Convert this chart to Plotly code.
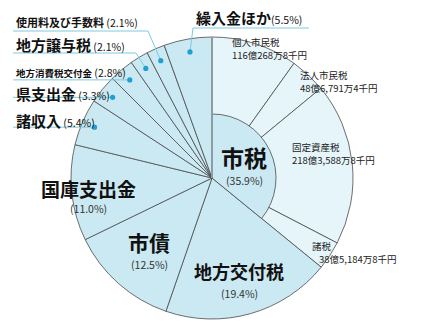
import math
import plotly.graph_objects as go

# ---------------- data ----------------
main_labels = ["地方交付税", "市債", "国庫支出金", "諸収入", "県支出金",
               "地方消費税交付金", "地方譲与税", "使用料及び手数料", "繰入金ほか"]
main_pcts = [19.4, 12.5, 11.0, 5.4, 3.3, 2.8, 2.1, 2.1, 5.5]

city_tax_label = "市税"
city_tax_pct = 35.9
sub_labels = ["個人市民税", "法人市民税", "固定資産税", "諸税"]
sub_amounts_man = [1160268.8, 486791.4, 2183588.8, 385184.8]   # 万円
sub_texts = ["116億268万8千円", "48億6,791万4千円", "218億3,588万8千円", "38億5,184万8千円"]

# ---------------- layout constants ----------------
W, H = 422, 332
CX, CY, R, RIN = 212, 178, 141, 64
MAIN = "#cbe9f2"
SUB = "#e6f5fa"
EDGE = "#4a4a4a"
LEAD = "#7cc9e0"
DOT = "#1f9fd3"
FONT = "Noto Sans CJK JP"

sub_total = sum(sub_amounts_man)
sub_pcts = [city_tax_pct * a / sub_total for a in sub_amounts_man]

values = sub_pcts + main_pcts
colors = [SUB] * len(sub_pcts) + [MAIN] * len(main_pcts)

def dom(r):
    return dict(x=[(CX - r) / W, (CX + r) / W],
                y=[(H - CY - r) / H, (H - CY + r) / H])

fig = go.Figure()
fig.add_trace(go.Pie(values=values, labels=sub_labels + main_labels, sort=False,
                     direction="clockwise", rotation=0, textinfo="none",
                     hoverinfo="skip", domain=dom(R),
                     marker=dict(colors=colors, line=dict(color=EDGE, width=0.8))))
fig.add_trace(go.Pie(values=[city_tax_pct, 100 - city_tax_pct], labels=[city_tax_label, "rest"],
                     sort=False, direction="clockwise", rotation=0, textinfo="none",
                     hoverinfo="skip", domain=dom(RIN),
                     marker=dict(colors=[MAIN, "rgba(0,0,0,0)"],
                                 line=dict(color=EDGE, width=[0.8, 0]))))

# pixel-coordinate overlay axis
fig.add_trace(go.Scatter(x=[0, W], y=[0, H], mode="markers", marker=dict(opacity=0),
                         hoverinfo="skip", showlegend=False))

shapes = []
annotations = []

def pt(pct_mid, r):
    a = math.radians(pct_mid * 3.6)
    return CX + r * math.sin(a), CY - r * math.cos(a)

# mid angles of main slices
cum = city_tax_pct
mids = {}
for lab, p in zip(main_labels, main_pcts):
    mids[lab] = cum + p / 2
    cum += p

# 12 o'clock line
shapes.append(dict(type="line", x0=CX, y0=CY, x1=CX, y1=CY - R, xref="x", yref="y",
                   line=dict(color="#8d9ca3", width=2), layer="above"))

# outside labels: (label, text x, text y, font size, underline y or None, bend x or None)
outside = [
    ("使用料及び手数料", 14, 22, 11, 31, 148),
    ("地方譲与税", 14, 44, 15, 53, 136),
    ("地方消費税交付金", 14, 72, 9.5, None, None),
    ("県支出金", 14, 93, 15, None, None),
    ("諸収入", 14, 120, 15, None, None),
]
DOT_R = 128
for lab, tx, ty, fs, uy, bx in outside:
    pct = main_pcts[main_labels.index(lab)]
    dx, dy = pt(mids[lab], DOT_R)
    if uy is None:
        path = f"M {tx-1},{dy} L {dx},{dy}"
    else:
        path = f"M {tx-1},{uy} L {bx},{uy} L {dx},{dy}"
    shapes.append(dict(type="path", path=path, xref="x", yref="y",
                       line=dict(color=LEAD, width=1), layer="above"))
    shapes.append(dict(type="circle", xref="x", yref="y", x0=dx - 2.6, x1=dx + 2.6,
                       y0=dy - 2.6, y1=dy + 2.6, fillcolor=DOT, line=dict(width=0),
                       layer="above"))
    annotations.append(dict(x=tx, y=ty, xref="x", yref="y", xanchor="left", yanchor="middle",
                            showarrow=False,
                            text=f"<b>{lab}</b><span style='font-size:10.5px;font-weight:normal'> ({pct}%)</span>",
                            font=dict(family=FONT, size=fs, color="#111")))

# 繰入金ほか (top)
lab = "繰入金ほか"
dx, dy = pt(mids[lab], DOT_R)
shapes.append(dict(type="path", path=f"M 309,28 L 193,28 L {dx},{dy}", xref="x", yref="y",
                   line=dict(color=LEAD, width=1), layer="above"))
shapes.append(dict(type="circle", xref="x", yref="y", x0=dx - 2.6, x1=dx + 2.6,
                   y0=dy - 2.6, y1=dy + 2.6, fillcolor=DOT, line=dict(width=0), layer="above"))
annotations.append(dict(x=194, y=17, xref="x", yref="y", xanchor="left", yanchor="middle",
                        showarrow=False,
                        text=f"<b>{lab}</b><span style='font-size:10.5px;font-weight:normal'>({main_pcts[-1]}%)</span>",
                        font=dict(family=FONT, size=15, color="#111")))

# inside labels: (label, pct, x center, y of name, size, y of pct)
inside = [
    (city_tax_label, city_tax_pct, 244, 157, 23, 180),
    ("地方交付税", None, 239, 271, 18, 293),
    ("市債", None, 149, 242, 21, 264),
    ("国庫支出金", None, 88, 188, 19, 208),
]
for lab, p, x, y, fs, py in inside:
    if p is None:
        p = main_pcts[main_labels.index(lab)]
    annotations.append(dict(x=x, y=y, xref="x", yref="y", showarrow=False,
                            text=f"<b>{lab}</b>", font=dict(family=FONT, size=fs, color="#111")))
    annotations.append(dict(x=x, y=py, xref="x", yref="y", showarrow=False,
                            text=f"({p}%)", font=dict(family=FONT, size=10.5, color="#333")))

# sub labels (市税 breakdown)
sub_pos = [(231, 42, 55), (299, 75, 88), (291, 147, 160), (311, 246, 259)]
for lab, amt, (x, y1, y2), off in zip(sub_labels, sub_texts, sub_pos, [0, 0, 0, 7]):
    annotations.append(dict(x=x, y=y1, xref="x", yref="y", xanchor="left", showarrow=False,
                            borderpad=0, text=lab,
                            font=dict(family=FONT, size=9.5, color="#222")))
    annotations.append(dict(x=x + off, y=y2, xref="x", yref="y", xanchor="left", showarrow=False,
                            borderpad=0, text=amt,
                            font=dict(family=FONT, size=9.5, color="#222")))

fig.update_layout(
    width=W, height=H, margin=dict(l=0, r=0, t=0, b=0),
    paper_bgcolor="white", plot_bgcolor="rgba(0,0,0,0)", showlegend=False,
    xaxis=dict(range=[0, W], visible=False, fixedrange=True, domain=[0, 1]),
    yaxis=dict(range=[H, 0], visible=False, fixedrange=True, domain=[0, 1]),
    shapes=shapes, annotations=annotations,
)
fig.write_html("out.html", config={"displayModeBar": False})
